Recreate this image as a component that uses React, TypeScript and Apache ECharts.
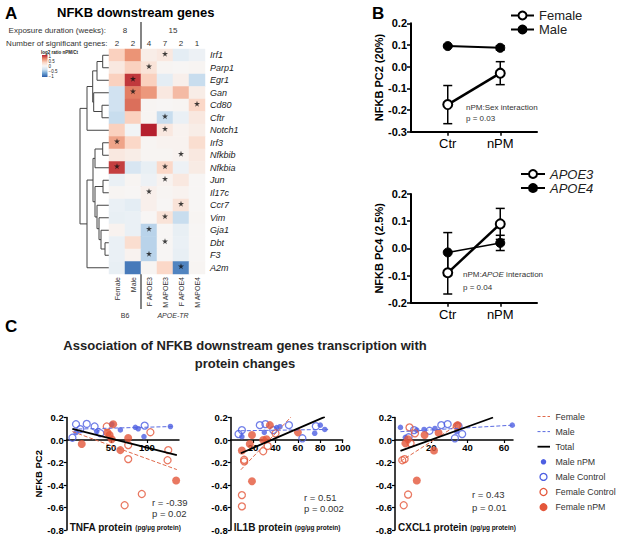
import React, { useEffect, useRef } from 'react';
import * as echarts from 'echarts';

const FONT = '"Liberation Sans", Arial, Helvetica, sans-serif';

// ---------- Panel A data ----------
const genes = ['Irf1', 'Parp1', 'Egr1', 'Gan', 'Cd80', 'Cftr', 'Notch1', 'Irf3', 'Nfkbib', 'Nfkbia', 'Jun', 'Il17c', 'Ccr7', 'Vim', 'Gja1', 'Dbt', 'F3', 'A2m'];
const groups = ['Female', 'Male', 'F APOE3', 'M APOE3', 'F APOE4', 'M APOE4'];
const sigCounts = ['2', '2', '4', '7', '2', '1'];
const durations: [string, number, number][] = [['8', 0, 2], ['15', 2, 6]];
const strainLabels: [string, number, number, boolean][] = [['B6', 0, 2, false], ['APOE-TR', 2, 6, true]];
// rows = genes, columns = groups (log2 ratio nPM/Ct)
const log2Ratio = [
  [0.35, 0.62, 0.1, 0.15, -0.15, -0.08],
  [0.15, 0.35, 0.2, 0.03, 0.02, 0.03],
  [0.35, 0.92, 0.35, -0.15, 0.08, -0.35],
  [-0.3, 0.7, 0.6, 0.15, 0.45, 0.1],
  [-0.3, 0.75, 0.03, 0.02, 0.03, 0.3],
  [-0.35, 0.35, 0.03, -0.35, -0.1, 0.15],
  [0.35, -0.05, 1.0, 0.15, 0.05, 0.1],
  [0.55, 0.3, 0.03, 0.05, 0.05, 0.25],
  [0.15, 0.1, 0.03, 0.03, 0.05, 0.15],
  [0.9, -0.25, -0.12, 0.3, -0.08, 0.12],
  [-0.1, 0.03, -0.08, 0.05, 0.15, 0.02],
  [0.03, 0.02, 0.08, 0.03, 0.05, 0.02],
  [-0.1, -0.15, 0.08, 0.02, 0.2, 0.02],
  [-0.12, -0.1, 0.02, 0.2, -0.35, 0.03],
  [0.05, -0.1, -0.4, 0.02, -0.12, 0.02],
  [-0.1, 0.25, -0.4, 0.02, -0.1, 0.02],
  [-0.1, 0.05, -0.4, 0.02, -0.12, 0.02],
  [-0.12, -0.85, 0.03, 0.3, -0.8, 0.03],
];
const sigCells: [string, string][] = [
  ['Irf1', 'M APOE3'], ['Parp1', 'F APOE3'], ['Egr1', 'Male'], ['Gan', 'Male'], ['Cd80', 'M APOE4'],
  ['Cftr', 'M APOE3'], ['Notch1', 'M APOE3'], ['Irf3', 'Female'], ['Nfkbib', 'F APOE4'], ['Nfkbia', 'Female'],
  ['Nfkbia', 'M APOE3'], ['Jun', 'M APOE3'], ['Il17c', 'F APOE3'], ['Ccr7', 'F APOE4'], ['Vim', 'M APOE3'],
  ['Gja1', 'F APOE3'], ['Dbt', 'M APOE3'], ['F3', 'F APOE3'], ['A2m', 'F APOE4'],
];
// hierarchical clustering merges: [childA, childB, height]
const dendroMerges: [string, string, number][] = [
  ['Irf1', 'Parp1', 6.3], ['m0', 'Egr1', 12], ['Cd80', 'Cftr', 7], ['Gan', 'm2', 15.3],
  ['m1', 'm3', 16.3], ['m4', 'Notch1', 22], ['Irf3', 'Nfkbib', 6.3], ['m6', 'Nfkbia', 14],
  ['Jun', 'Il17c', 6], ['Dbt', 'F3', 4], ['Gja1', 'm9', 8], ['Vim', 'm10', 10],
  ['Ccr7', 'm11', 12], ['m8', 'm12', 14], ['m7', 'm13', 16], ['m14', 'A2m', 22], ['m5', 'm15', 29],
];
const colorTicks = ['1', '0.5', '0', '\u22120.5', '\u22121'];
const heatColors = ['#2b5ca8', '#6a9fd0', '#cde0f0', '#f7f7f7', '#fbd5c3', '#e8896a', '#b51f2e'];

// ---------- Panel B data ----------
const conditions = ['Ctr', 'nPM'];
const pc2Female = [-0.175, -0.03];
const pc2FemaleErr = [0.088, 0.053];
const pc2Male = [0.095, 0.087];
const pc2MaleErr = [0.004, 0.01];
const pc4Apoe3 = [-0.09, 0.09];
const pc4Apoe3Err = [0.078, 0.057];
const pc4Apoe4 = [-0.015, 0.02];
const pc4Apoe4Err = [0.073, 0.028];

// ---------- Panel C data ----------
const tnfaMaleNpm = [[1, 0.066], [30, 0.075], [51, 0.14], [63, 0.09], [84, 0.113], [88, 0.1], [96, 0.03], [133, 0.12]];
const tnfaMaleCtrl = [[-4, 0.02], [1, 0.14], [7, 0.096], [16, 0.143], [27, 0.12], [35, 0.06], [97, 0.128]];
const tnfaFemaleCtrl = [[44, 0.12], [74, -0.045], [74, -0.17], [105, 0.069], [130, -0.09], [129, -0.18], [69, -0.58], [93, -0.48]];
const tnfaFemaleNpm = [[9, -0.036], [45, 0.066], [48, 0.045], [53, 0.14], [51, 0.006], [63, -0.09], [74, 0.018], [141, -0.36]];
const tnfaFitFemale = [[-4, 0.075], [142, -0.263]];
const tnfaFitMale = [[-4, 0.096], [137, 0.12]];
const tnfaFitTotal = [[-4, 0.099], [142, -0.134]];

const il1bMaleNpm = [[10, 0.03], [30, 0.068], [41, 0.11], [44, 0.118], [75, 0.06], [80, 0.132], [84, 0.094]];
const il1bMaleCtrl = [[7, 0.053], [10, 0.088], [26, 0.132], [31, 0.141], [38, 0.088], [52, 0.132], [64, 0.015], [76, 0.123]];
const il1bFemaleCtrl = [[12, -0.176], [12, -0.19], [10, -0.49], [10, -0.59], [29, -0.1], [33, -0.053], [40, 0.059]];
const il1bFemaleNpm = [[10, -0.094], [17, -0.035], [19, 0.044], [29, 0.0], [32, 0.006], [35, 0.132], [60, 0.068], [19, -0.367]];
const il1bFitFemale = [[9, -0.265], [54, 0.206]];
const il1bFitMale = [[9, 0.082], [87, 0.094]];
const il1bFitTotal = [[9, -0.118], [84, 0.206]];

const cxclMaleNpm = [[3, 0.112], [5.7, 0.024], [12, 0.088], [16, 0.094], [22, 0.103], [34, 0.074], [64.6, 0.132]];
const cxclMaleCtrl = [[7.5, 0.024], [10.5, 0.088], [19, 0.082], [25.5, 0.132], [29, 0.141], [33, 0.015], [37, 0.053], [35, 0.123]];
const cxclFemaleCtrl = [[8, 0.112], [11, 0.059], [8.6, -0.03], [4, -0.18], [5.3, -0.17], [7.2, -0.485], [4.8, -0.58], [34, 0.123]];
const cxclFemaleNpm = [[5.7, -0.03], [7.2, 0.006], [16.3, 0.044], [24, 0.065], [21.5, -0.094], [12, -0.36], [34.5, 0.132]];
const cxclFitFemale = [[3, -0.19], [35, 0.141]];
const cxclFitMale = [[3, 0.074], [65, 0.132]];
const cxclFitTotal = [[3, -0.097], [54, 0.2]];

const proteinNames = ['TNFA', 'IL1B', 'CXCL1'];
const xRanges: [number, number][] = [[-12, 145], [0, 100], [0, 65]];
const xTickValues = [[50, 100], [20, 40, 60, 80, 100], [20, 40, 60]];
const corrStats = [['r = -0.39', 'p = 0.02'], ['r = 0.51', 'p = 0.002'], ['r = 0.43', 'p = 0.01']];
const legendCNames = ['Female', 'Male', 'Total', 'Male nPM', 'Male Control', 'Female Control', 'Female nPM'];

const BLUE = '#4e5fe2';
const RED = '#e4563a';
const RED_FIT = '#e06a4c';
const BLUE_FIT = '#5a6ae0';
const CLEAR = 'rgba(255,255,255,0)';

// ---------- layout ----------
const HEAT = { left: 109, top: 49, width: 96, height: 225 };
const DENDRO = { left: 79.5, width: 29.5 };
const BGRID = [{ top: 23.3, height: 108.4 }, { top: 194, height: 108.7 }];
const BLEFT = 411, BWIDTH = 126;
const CGRIDS = [{ left: 66.7, width: 112.3 }, { left: 230.7, width: 112 }, { left: 395, width: 118 }];
const CTOP = 417.5, CHEIGHT = 112.5, CYMIN = -0.8, CYMAX = 0.2;
const STAT_POS = [[152, 502, 513], [304, 497, 508.5], [472, 494, 507]];

const STAR = 'path://M50,0 L61,35 L98,35 L68,57 L79,91 L50,70 L21,91 L32,57 L2,35 L39,35 Z';

// series look for panel C (also used by its legend)
const cStyles: Record<string, any> = {
  'Male nPM': { kind: 'dot', size: 5.5, itemStyle: { color: BLUE } },
  'Male Control': { kind: 'dot', size: 7, itemStyle: { color: CLEAR, borderColor: BLUE, borderWidth: 1.3 } },
  'Female Control': { kind: 'dot', size: 7, itemStyle: { color: CLEAR, borderColor: RED, borderWidth: 1.3 } },
  'Female nPM': { kind: 'dot', size: 8, itemStyle: { color: RED } },
  Female: { kind: 'line', color: RED_FIT, width: 1, type: 'dashed' },
  Male: { kind: 'line', color: BLUE_FIT, width: 1, type: 'dashed' },
  Total: { kind: 'line', color: '#000', width: 1.8, type: 'solid' },
};

function buildOption() {
  const cellW = HEAT.width / groups.length;

  // dendrogram data
  const nodes: { y: number; h: number }[] = [];
  const resolve = (k: string) => (genes.includes(k) ? { y: genes.indexOf(k), h: 0 } : nodes[+k.slice(1)]);
  const dendroData: number[][] = [];
  dendroMerges.forEach(([a, b, h]) => {
    const A = resolve(a), B = resolve(b);
    nodes.push({ y: (A.y + B.y) / 2, h });
    dendroData.push([A.h, A.y, h, B.y, B.h]);
  });

  const heatData: number[][] = [];
  genes.forEach((g, r) => groups.forEach((grp, c) => heatData.push([c, r, log2Ratio[r][c]])));
  const starData = sigCells.map(([g, grp]) => [groups.indexOf(grp), genes.indexOf(g)]);

  const grids: any[] = [
    { left: DENDRO.left, top: HEAT.top, width: DENDRO.width, height: HEAT.height },
    { left: HEAT.left, top: HEAT.top, width: HEAT.width, height: HEAT.height },
    { left: BLEFT, width: BWIDTH, ...BGRID[0] },
    { left: BLEFT, width: BWIDTH, ...BGRID[1] },
    ...CGRIDS.map((g) => ({ left: g.left, width: g.width, top: CTOP, height: CHEIGHT })),
  ].map((g) => ({ ...g, outerBoundsMode: 'none', containLabel: false }));

  const hidden = { show: false };
  const bold = { fontFamily: FONT, fontWeight: 'bold', color: '#000' };
  const fmt1 = (v: number) => (Math.abs(v) < 1e-9 ? '0.0' : v.toFixed(1));

  const xAxes: any[] = [
    { gridIndex: 0, type: 'value', min: 0, max: 29.5, inverse: true, show: false },
    {
      gridIndex: 1, type: 'category', data: groups, axisLine: hidden, axisTick: hidden, splitLine: hidden,
      axisLabel: { rotate: 90, interval: 0, fontSize: 7, color: '#333', fontFamily: FONT, margin: 3 },
    },
  ];
  const yAxes: any[] = [
    { gridIndex: 0, type: 'value', min: -0.5, max: 17.5, inverse: true, show: false },
    {
      gridIndex: 1, type: 'category', data: genes, inverse: true, position: 'right',
      axisLine: hidden, axisTick: hidden, splitLine: hidden,
      axisLabel: { interval: 0, fontSize: 9, fontStyle: 'italic', color: '#222', fontFamily: FONT, margin: 5 },
    },
  ];
  // panel B axes
  const bYNames = ['NFKB PC2 (20%)', 'NFKB PC4 (2.5%)'];
  const bYMin = [-0.3, -0.2];
  [0, 1].forEach((k) => {
    xAxes.push({
      gridIndex: 2 + k, type: 'value', min: -0.7, max: 1.7,
      axisLine: { show: true, onZero: false, lineStyle: { color: '#000', width: 2 } },
      axisTick: { show: true, customValues: [0, 1], length: 4, lineStyle: { color: '#000', width: 1.5 } },
      axisLabel: { customValues: [0, 1], formatter: (v: number) => conditions[Math.round(v)], fontSize: 13, color: '#000', fontFamily: FONT, margin: 5 },
      splitLine: hidden,
    });
    yAxes.push({
      gridIndex: 2 + k, type: 'value', min: bYMin[k], max: 0.2, interval: 0.1,
      name: bYNames[k], nameLocation: 'middle', nameGap: 25,
      nameTextStyle: { ...bold, fontSize: 11 },
      axisLine: { show: true, onZero: false, lineStyle: { color: '#000', width: 2 } },
      axisTick: { show: true, length: 4, lineStyle: { color: '#000', width: 1.5 } },
      axisLabel: { ...bold, fontSize: 11, margin: 4, formatter: fmt1 },
      splitLine: hidden,
    });
  });
  // panel C axes (x axis drawn through y = 0)
  const zeroOffset = -CHEIGHT * (0 - CYMIN) / (CYMAX - CYMIN);
  CGRIDS.forEach((_, k) => {
    xAxes.push({
      gridIndex: 4 + k, type: 'value', min: xRanges[k][0], max: xRanges[k][1], position: 'bottom', offset: zeroOffset,
      axisLine: { show: true, onZero: false, lineStyle: { color: '#000', width: 1.5 } },
      axisTick: { show: true, customValues: xTickValues[k], length: 3, lineStyle: { color: '#000', width: 1.2 } },
      axisLabel: { ...bold, customValues: xTickValues[k], fontSize: 9.5, margin: 2 },
      splitLine: hidden,
    });
    yAxes.push({
      gridIndex: 4 + k, type: 'value', min: CYMIN, max: CYMAX, interval: 0.2,
      name: k === 0 ? 'NFKB PC2' : '', nameLocation: 'middle', nameGap: 21,
      nameTextStyle: { ...bold, fontSize: 9.5 },
      axisLine: { show: true, onZero: false, lineStyle: { color: '#000', width: 1.5 } },
      axisTick: { show: true, length: 3, lineStyle: { color: '#000', width: 1.2 } },
      axisLabel: { ...bold, fontSize: 9.5, margin: 3, formatter: fmt1 },
      splitLine: hidden,
    });
  });
  // top axis for significant gene counts
  xAxes.push({
    gridIndex: 1, type: 'category', data: groups, position: 'top', axisLine: hidden, axisTick: hidden, splitLine: hidden,
    axisLabel: { interval: 0, formatter: (_v: string, i: number) => sigCounts[i], fontSize: 8, color: '#333', fontFamily: FONT, margin: 2 },
  });

  const series: any[] = [
    {
      type: 'custom', xAxisIndex: 0, yAxisIndex: 0, silent: true, data: dendroData,
      renderItem: (_p: any, api: any) => {
        const pts = [
          api.coord([api.value(0), api.value(1)]),
          api.coord([api.value(2), api.value(1)]),
          api.coord([api.value(2), api.value(3)]),
          api.coord([api.value(4), api.value(3)]),
        ];
        return { type: 'polyline', shape: { points: pts }, style: { stroke: '#444', lineWidth: 1, fill: null } };
      },
    },
    { type: 'heatmap', xAxisIndex: 1, yAxisIndex: 1, data: heatData, itemStyle: { borderWidth: 0 }, silent: true },
    {
      type: 'scatter', xAxisIndex: 1, yAxisIndex: 1, data: starData, symbol: STAR, symbolSize: 6,
      symbolOffset: [0, -1.5], itemStyle: { color: '#111' }, silent: true, z: 5,
    },
  ];

  // panel B series
  const errBar = (xi: number, vals: number[], errs: number[]) => ({
    type: 'custom', xAxisIndex: xi, yAxisIndex: xi, silent: true, z: 1,
    data: vals.map((v, i) => [i, v - errs[i], v + errs[i]]),
    renderItem: (_p: any, api: any) => {
      const a = api.coord([api.value(0), api.value(1)]);
      const b = api.coord([api.value(0), api.value(2)]);
      const w = 4.5;
      const st = { stroke: '#000', lineWidth: 1.5 };
      return {
        type: 'group',
        children: [
          { type: 'line', shape: { x1: a[0], y1: a[1], x2: b[0], y2: b[1] }, style: st },
          { type: 'line', shape: { x1: a[0] - w, y1: a[1], x2: a[0] + w, y2: a[1] }, style: st },
          { type: 'line', shape: { x1: b[0] - w, y1: b[1], x2: b[0] + w, y2: b[1] }, style: st },
        ],
      };
    },
  });
  const bLine = (name: string, xi: number, vals: number[], open: boolean, width: number) => ({
    type: 'line', name, xAxisIndex: xi, yAxisIndex: xi, z: 3, silent: true,
    data: vals.map((v, i) => [i, v]), symbol: 'circle', symbolSize: 9,
    lineStyle: { color: '#000', width },
    itemStyle: open ? { color: '#fff', borderColor: '#000', borderWidth: 2 } : { color: '#000', borderColor: '#000', borderWidth: 1 },
  });
  series.push(
    errBar(2, pc2Female, pc2FemaleErr), errBar(2, pc2Male, pc2MaleErr),
    bLine('Female (B)', 2, pc2Female, true, 2.5), bLine('Male (B)', 2, pc2Male, false, 2),
    errBar(3, pc4Apoe3, pc4Apoe3Err), errBar(3, pc4Apoe4, pc4Apoe4Err),
    bLine('APOE3', 3, pc4Apoe3, true, 2.5), bLine('APOE4', 3, pc4Apoe4, false, 1.5),
  );

  // panel C series
  const cData: Record<string, number[][]>[] = [
    { 'Male nPM': tnfaMaleNpm, 'Male Control': tnfaMaleCtrl, 'Female Control': tnfaFemaleCtrl, 'Female nPM': tnfaFemaleNpm, Female: tnfaFitFemale, Male: tnfaFitMale, Total: tnfaFitTotal },
    { 'Male nPM': il1bMaleNpm, 'Male Control': il1bMaleCtrl, 'Female Control': il1bFemaleCtrl, 'Female nPM': il1bFemaleNpm, Female: il1bFitFemale, Male: il1bFitMale, Total: il1bFitTotal },
    { 'Male nPM': cxclMaleNpm, 'Male Control': cxclMaleCtrl, 'Female Control': cxclFemaleCtrl, 'Female nPM': cxclFemaleNpm, Female: cxclFitFemale, Male: cxclFitMale, Total: cxclFitTotal },
  ];
  const cOrder = ['Male nPM', 'Male Control', 'Female Control', 'Female nPM', 'Female', 'Male', 'Total'];
  cData.forEach((d, k) => {
    const ax = 4 + k;
    cOrder.forEach((name) => {
      const s = cStyles[name];
      if (s.kind === 'dot') {
        series.push({ type: 'scatter', name, xAxisIndex: ax, yAxisIndex: ax, data: d[name], symbolSize: s.size, itemStyle: s.itemStyle, silent: true, z: 2 });
      } else {
        series.push({
          type: 'line', name, xAxisIndex: ax, yAxisIndex: ax, data: d[name], symbol: 'none', silent: true, z: 3,
          lineStyle: { color: s.color, width: s.width, type: s.type }, itemStyle: { color: s.color },
        });
      }
    });
  });

  // graphic elements
  const graphic: any[] = [];
  const txt = (text: string, x: number, y: number, style: any = {}) =>
    graphic.push({ type: 'text', x, y, silent: true, style: { text, fontFamily: FONT, fill: '#000', verticalAlign: 'middle', ...style } });

  txt('A', 5, 13, { fontSize: 17, fontWeight: 'bold' });
  txt('B', 372, 13, { fontSize: 17, fontWeight: 'bold' });
  txt('C', 5, 326, { fontSize: 17, fontWeight: 'bold' });
  txt('NFKB downstream genes', 57, 12, { fontSize: 13, fontWeight: 'bold' });
  txt('Exposure duration (weeks):', 106, 30.5, { fontSize: 8, fill: '#333', align: 'right' });
  txt('Number of significant genes:', 107.5, 43, { fontSize: 8, fill: '#333', align: 'right' });
  durations.forEach(([t, a, b]) => txt(t, HEAT.left + ((a + b) / 2) * cellW, 30.5, { fontSize: 8, fill: '#333', align: 'center' }));
  strainLabels.forEach(([t, a, b, it]) =>
    txt(t, HEAT.left + ((a + b) / 2) * cellW, 315, { fontSize: 7, fill: '#333', align: 'center', fontStyle: it ? 'italic' : 'normal' }));
  graphic.push({
    type: 'line', silent: true,
    shape: { x1: HEAT.left + 2 * cellW, y1: 22, x2: HEAT.left + 2 * cellW, y2: 309 },
    style: { stroke: '#333', lineWidth: 1.2 },
  });
  // color key
  graphic.push({
    type: 'rect', silent: true, shape: { x: 42, y: 55, width: 5.5, height: 22 },
    style: {
      fill: {
        type: 'linear', x: 0, y: 0, x2: 0, y2: 1,
        colorStops: heatColors.slice().reverse().map((c, i, arr) => ({ offset: i / (arr.length - 1), color: c })),
      },
    },
  });
  txt('log2 ratio nPM/Ct', 41, 52, { fontSize: 4.5, fill: '#222', fontWeight: 'bold' });
  colorTicks.forEach((t, i) => txt(t, 48.5, 56.3 + i * 5.1, { fontSize: 4.5, fill: '#222' }));

  // panel B annotations
  txt('nPM:Sex interaction', 466, 107, { fontSize: 8, fill: '#333' });
  txt('p = 0.03', 466, 118.5, { fontSize: 8, fill: '#333' });
  graphic.push({
    type: 'text', x: 463, y: 274, silent: true,
    style: {
      text: '{n|nPM:}{i|APOE}{n| interaction}', verticalAlign: 'middle', fill: '#333',
      rich: { n: { fontSize: 8, fontFamily: FONT, fill: '#333' }, i: { fontSize: 8, fontFamily: FONT, fontStyle: 'italic', fill: '#333' } },
    },
  });
  txt('p = 0.04', 463, 287, { fontSize: 8, fill: '#333' });

  // panel C title and annotations
  txt('Association of NFKB downstream genes transcription with', 245, 345, { fontSize: 13, fontWeight: 'bold', align: 'center', fill: '#222' });
  txt('protein changes', 245, 363, { fontSize: 13, fontWeight: 'bold', align: 'center', fill: '#222' });
  CGRIDS.forEach((g, k) => {
    graphic.push({
      type: 'text', x: g.left + 3, y: 527, silent: true,
      style: {
        text: `{a|${proteinNames[k]} protein }{b|(pg/\u00b5g protein)}`, verticalAlign: 'middle', fill: '#111',
        rich: {
          a: { fontSize: 10, fontWeight: 'bold', fontFamily: FONT, fill: '#111' },
          b: { fontSize: 6.5, fontWeight: 'bold', fontFamily: FONT, fill: '#111' },
        },
      },
    });
    txt(corrStats[k][0], STAT_POS[k][0], STAT_POS[k][1], { fontSize: 9.5, fill: '#333' });
    txt(corrStats[k][1], STAT_POS[k][0], STAT_POS[k][2], { fontSize: 9.5, fill: '#333' });
  });

  // panel C legend (drawn from the same series styles)
  legendCNames.forEach((name, i) => {
    const y = 416.5 + i * 15.1;
    const s = cStyles[name];
    if (s.kind === 'line') {
      graphic.push({
        type: 'line', silent: true, shape: { x1: 537.5, y1: y, x2: 550, y2: y },
        style: { stroke: s.color, lineWidth: s.width, lineDash: s.type === 'dashed' ? [3, 2] : null },
      });
    } else {
      graphic.push({
        type: 'circle', silent: true, shape: { cx: 543.5, cy: y, r: s.size / 2 },
        style: { fill: s.itemStyle.color, stroke: s.itemStyle.borderColor || null, lineWidth: s.itemStyle.borderWidth || 0 },
      });
    }
    txt(name, 555.5, y, { fontSize: 8.8, fill: '#333' });
  });

  return {
    animation: false,
    backgroundColor: '#fff',
    textStyle: { fontFamily: FONT },
    grid: grids,
    xAxis: xAxes,
    yAxis: yAxes,
    visualMap: [{ type: 'continuous', show: false, min: -1, max: 1, seriesIndex: 1, inRange: { color: heatColors } }],
    legend: [
      {
        data: ['Female (B)', 'Male (B)'], orient: 'vertical', left: 505, top: 4, itemWidth: 23, itemHeight: 10, itemGap: 1,
        selectedMode: false, formatter: (n: string) => n.replace(' (B)', ''),
        textStyle: { fontSize: 13, lineHeight: 13, color: '#222', fontFamily: FONT },
      },
      {
        data: ['APOE3', 'APOE4'], orient: 'vertical', left: 515, top: 162.5, itemWidth: 24, itemHeight: 10, itemGap: 1,
        selectedMode: false,
        textStyle: { fontSize: 13, lineHeight: 13, color: '#222', fontFamily: FONT, fontStyle: 'italic' },
      },
    ],
    series,
    graphic,
  };
}

export default function App() {
  const ref = useRef<HTMLDivElement>(null);
  useEffect(() => {
    if (!ref.current) return;
    const chart = echarts.init(ref.current, null, { renderer: 'svg' });
    chart.setOption(buildOption() as any);
    return () => chart.dispose();
  }, []);
  return <div ref={ref} style={{ position: 'absolute', left: 0, top: 0, width: 617, height: 536, background: '#fff' }} />;
}
